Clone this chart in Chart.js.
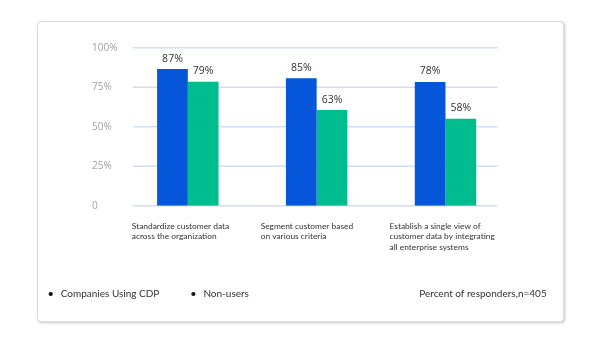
<!DOCTYPE html>
<html>
<head>
<meta charset="utf-8">
<script src="https://cdn.jsdelivr.net/npm/chart.js@4.4.1/dist/chart.umd.min.js"></script>
<style>
  html, body { margin: 0; padding: 0; background: #ffffff; }
  #wrap { position: relative; width: 600px; height: 338px; overflow: hidden; }
  #card { position: absolute; left: 37px; top: 21px; width: 525px; height: 299px;
          border: 1px solid #dddddd; border-radius: 4px; background: #ffffff;
          box-shadow: 1px 1px 3px rgba(0,0,0,0.22); }
  #c { position: absolute; left: 0; top: 0; }
</style>
</head>
<body>
<div id="wrap">
  <div id="card"></div>
  <canvas id="c" width="600" height="338"></canvas>
</div>
<script>
const categories = [
  ["Standardize customer data", "across the organization"],
  ["Segment customer based", "on various criteria"],
  ["Establish a single view of", "customer data by integrating", "all enterprise systems"]
];
const seriesNames = ["Companies Using CDP", "Non-users"];
const cdpValues = [86.5, 80.7, 78.3];
const nonUserValues = [78.5, 60.5, 55.1];
const cdpLabels = ["87%", "85%", "78%"];
const nonUserLabels = ["79%", "63%", "58%"];
const yTicks = [0, 25, 50, 75, 100];
const yTickLabels = ["0", "25%", "50%", "75%", "100%"];
const noteText = "Percent of responders,n=405";

const FONT = "'Open Sans', 'Noto Sans', sans-serif";
const LFONT = "Lato, 'Open Sans', sans-serif";

const gridPlugin = {
  id: 'customGrid',
  beforeDatasetsDraw(chart) {
    const y = chart.scales.y, a = chart.chartArea, ctx = chart.ctx;
    ctx.save();
    ctx.strokeStyle = '#cfdef5';
    ctx.lineWidth = 1.5;
    yTicks.forEach(v => {
      const py = y.getPixelForValue(v);
      ctx.beginPath();
      ctx.moveTo(a.left + 9.3, py);
      ctx.lineTo(a.right - 12.4, py);
      ctx.stroke();
    });
    ctx.restore();
  }
};

const labelPlugin = {
  id: 'barLabels',
  afterDatasetsDraw(chart) {
    const ctx = chart.ctx;
    const texts = [cdpLabels, nonUserLabels];
    ctx.save();
    ctx.font = "10.5px " + FONT;
    ctx.fillStyle = '#333333';
    ctx.textAlign = 'center';
    ctx.textBaseline = 'middle';
    chart.data.datasets.forEach((ds, di) => {
      chart.getDatasetMeta(di).data.forEach((bar, i) => {
        ctx.fillText(texts[di][i], bar.x, bar.y - 10.5);
      });
    });
    ctx.restore();
  }
};

const notePlugin = {
  id: 'note',
  afterLayout(chart) {
    if (chart.legend) {
      const w = chart.legend.right - chart.legend.left;
      chart.legend.left = 16.7;
      chart.legend.right = 16.7 + w;
    }
  },
  afterDraw(chart) {
    const ctx = chart.ctx, lg = chart.legend;
    ctx.save();
    ctx.font = "10px " + LFONT;
    ctx.fillStyle = '#333333';
    ctx.textAlign = 'right';
    ctx.textBaseline = 'middle';
    ctx.fillText(noteText, chart.chartArea.right + 36.8, lg.top + 29 + 5);
    ctx.restore();
  }
};

new Chart(document.getElementById('c'), {
  type: 'bar',
  data: {
    labels: categories,
    datasets: [
      { label: seriesNames[0], data: cdpValues, backgroundColor: '#0556d9',
        barPercentage: 1.0, categoryPercentage: 0.4766 },
      { label: seriesNames[1], data: nonUserValues, backgroundColor: '#00bd8f',
        barPercentage: 1.0, categoryPercentage: 0.4766 }
    ]
  },
  options: {
    responsive: false,
    devicePixelRatio: 1,
    animation: false,
    layout: { padding: { left: 92, right: 90.1, top: 47.7, bottom: 29 } },
    scales: {
      x: {
        grid: { display: false },
        border: { display: false },
        ticks: {
          align: 'start',
          labelOffset: -56,
          padding: 7.6,
          color: '#333333',
          font: { family: LFONT, size: 8.4, lineHeight: 1.22 },
          maxRotation: 0, minRotation: 0, autoSkip: false
        },
        afterFit(s) { s.height = 54.3; }
      },
      y: {
        min: 0, max: 100,
        grid: { display: false },
        border: { display: false },
        afterBuildTicks(s) { s.ticks = yTicks.map(v => ({ value: v })); },
        afterFit(s) { s.width = 31.4; },
        ticks: {
          crossAlign: 'far',
          color: '#a3a3a3',
          font: { family: FONT, size: 10 },
          callback: (v) => yTickLabels[yTicks.indexOf(v)]
        }
      }
    },
    plugins: {
      tooltip: { enabled: false },
      legend: {
        position: 'bottom',
        align: 'start',
        labels: {
          usePointStyle: true,
          pointStyle: 'circle',
          boxWidth: 10,
          boxHeight: 3,
          padding: 29,
          color: '#333333',
          font: { family: LFONT, size: 10 },
          generateLabels(chart) {
            return Chart.defaults.plugins.legend.labels.generateLabels(chart).map(l =>
              Object.assign(l, { fillStyle: '#111111', strokeStyle: '#111111', lineWidth: 0 }));
          }
        }
      }
    }
  },
  plugins: [gridPlugin, labelPlugin, notePlugin]
});
</script>
</body>
</html>
